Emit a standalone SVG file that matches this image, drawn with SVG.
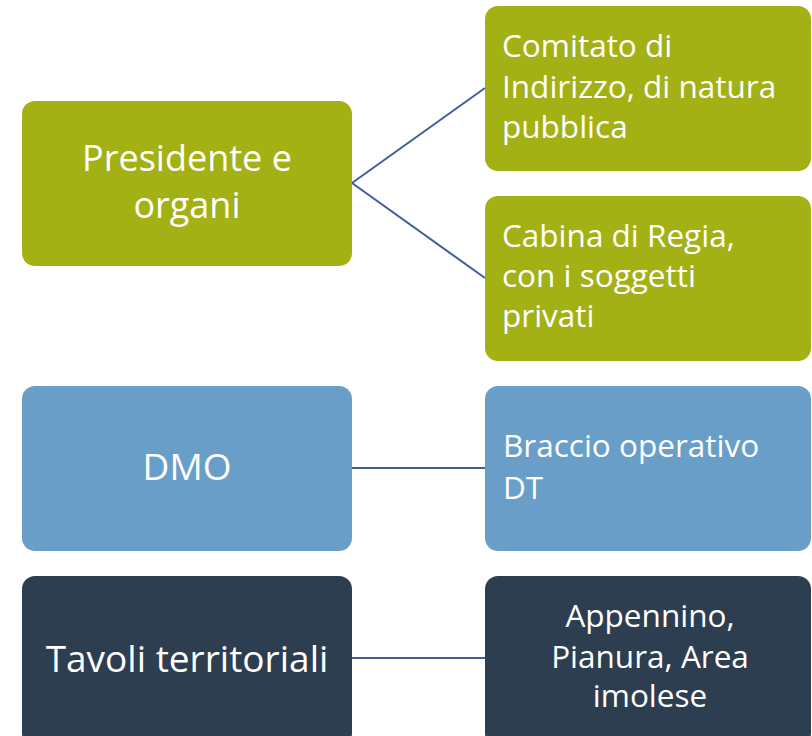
<svg xmlns="http://www.w3.org/2000/svg" width="812" height="736" viewBox="0 0 812 736">
<style>
.g{fill:#A3B115}
.b{fill:#699EC9}
.d{fill:#2C3E4F}
text{font-family:"Open Sans","Noto Sans",sans-serif;fill:#ffffff}
.big{font-size:37px}
.pr{font-size:36px}
.sm{font-size:31.5px}
.c{text-anchor:middle}
.con{stroke:#3F5D9B;stroke-width:2;fill:none}
</style>
<rect width="812" height="736" fill="#ffffff"/>
<g id="connectors">
<path class="con" d="M352 183 L485 88"/>
<path class="con" d="M352 183 L485 278"/>
<path class="con" d="M352 468 L485 468"/>
<path class="con" d="M352 658 L485 658"/>
</g>
<g id="presidente">
<rect class="g" x="22" y="101" width="330" height="165" rx="13"/>
<text class="pr c"><tspan x="187" y="171">Presidente e</tspan><tspan x="187" y="218">organi</tspan></text>
</g>
<g id="comitato">
<rect class="g" x="485" y="6" width="326" height="165" rx="13"/>
<text class="sm"><tspan x="502" y="57">Comitato di</tspan><tspan x="502" y="98">Indirizzo, di natura</tspan><tspan x="502" y="138">pubblica</tspan></text>
</g>
<g id="cabina">
<rect class="g" x="485" y="196" width="326" height="165" rx="13"/>
<text class="sm"><tspan x="502" y="247">Cabina di Regia,</tspan><tspan x="502" y="287">con i soggetti</tspan><tspan x="502" y="327">privati</tspan></text>
</g>
<g id="dmo">
<rect class="b" x="22" y="386" width="330" height="165" rx="13"/>
<text class="big c" x="187" y="480">DMO</text>
</g>
<g id="braccio">
<rect class="b" x="485" y="386" width="326" height="165" rx="13"/>
<text class="sm"><tspan x="503" y="457">Braccio operativo</tspan><tspan x="503" y="499">DT</tspan></text>
</g>
<g id="tavoli">
<rect class="d" x="22" y="576" width="330" height="170" rx="13"/>
<text class="big c" x="187" y="672">Tavoli territoriali</text>
</g>
<g id="appennino">
<rect class="d" x="485" y="576" width="326" height="170" rx="13"/>
<text class="sm c"><tspan x="650" y="627">Appennino,</tspan><tspan x="650" y="668">Pianura, Area</tspan><tspan x="650" y="707">imolese</tspan></text>
</g>
</svg>
